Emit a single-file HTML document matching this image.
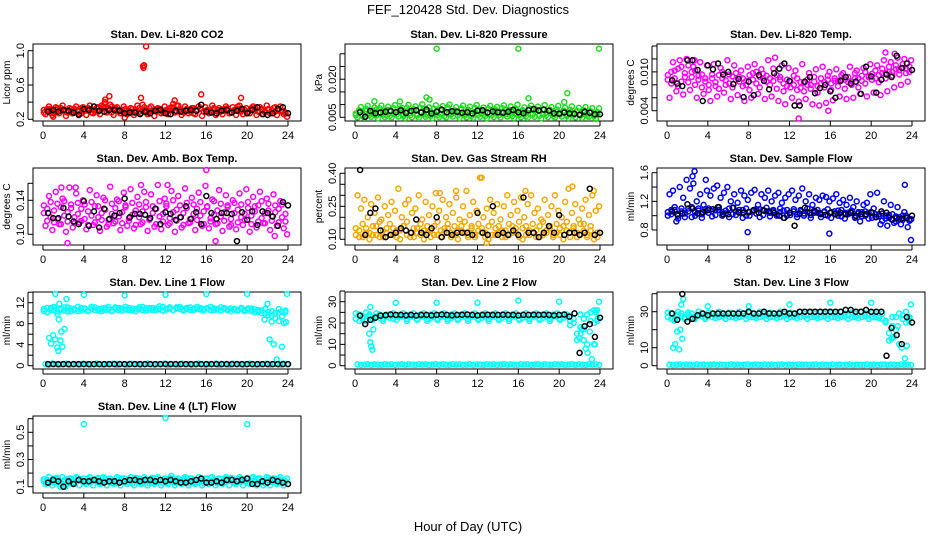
<!DOCTYPE html>
<html><head><meta charset="utf-8"><style>
html,body{margin:0;padding:0;background:#fff;}
svg{display:block;font-family:"Liberation Sans",sans-serif;}
</style></head><body>
<svg id="fig" xmlns="http://www.w3.org/2000/svg" width="936" height="540" viewBox="0 0 936 540">
<rect width="936" height="540" fill="#fff"/>
<text x="468" y="14" text-anchor="middle" font-size="13">FEF_120428  Std. Dev. Diagnostics</text>
<text x="468" y="531" text-anchor="middle" font-size="13">Hour of Day (UTC)</text>
</svg>
<script>
const co2A=[0.31,0.30,0.32,0.29,0.33,0.30,0.31,0.28,0.32,0.30,0.29,0.33,0.31,0.30,0.32,0.29,0.34,0.36,0.38,0.33,0.35,0.31,0.30,0.29,0.32,0.30,0.28,0.31,0.33,0.37,0.31,0.29,0.30,0.32,0.31,0.30,0.29,0.33,0.38,0.36,0.32,0.30,0.31,0.29,0.33,0.30,0.32,0.29,0.31,0.30,0.33,0.29,0.31,0.32,0.30,0.28,0.31,0.35,0.30,0.31,0.29,0.32,0.33,0.30,0.31,0.29,0.32,0.30,0.34,0.31,0.29,0.28];
const co2B=[0.26,0.35,0.25,0.34,0.27,0.36,0.24,0.33,0.27,0.35,0.26,0.34,0.25,0.36,0.27,0.33,0.26,0.35,0.28,0.37,0.25,0.34,0.27,0.35,0.26,0.33,0.25,0.36,0.27,0.34,0.26,0.35,0.24,0.33,0.27,0.35,0.26,0.34,0.28,0.36,0.25,0.35,0.27,0.33,0.26,0.35,0.24,0.34,0.27,0.36,0.25,0.33,0.26,0.35,0.27,0.34,0.25,0.36,0.26,0.33,0.27,0.35,0.25,0.34,0.26,0.36,0.27,0.33,0.25,0.35,0.26,0.23];
const co2C=[0.28,0.32,0.30,0.27,0.31,0.33,0.29,0.30,0.28,0.32,0.31,0.27,0.30,0.33,0.28,0.31,0.29,0.32,0.40,0.30,0.28,0.33,0.29,0.31,0.30,0.27,0.32,0.30,0.29,0.31,0.28,0.33,0.30,0.29,0.32,0.28,0.31,0.30,0.33,0.29,0.31,0.28,0.32,0.30,0.27,0.31,0.33,0.29,0.30,0.28,0.32,0.31,0.29,0.30,0.33,0.28,0.30,0.32,0.29,0.31,0.28,0.33,0.30,0.29,0.32,0.28,0.31,0.30,0.29,0.32,0.30,0.27];
const co2OutH=[9.8,9.85,9.9,10.1,6.5,15.5,19.4,9.6,6.1,12.9,1.0,8.0];
const co2OutV=[0.82,0.80,0.83,1.05,0.47,0.49,0.45,0.45,0.43,0.42,0.23,0.22];
const co2K=[0.29,0.31,0.29,0.31,0.30,0.28,0.25,0.32,0.31,0.35,0.30,0.29,0.31,0.31,0.30,0.27,0.28,0.28,0.26,0.29,0.27,0.30,0.31,0.27,0.26,0.30,0.29,0.30,0.31,0.30,0.37,0.29,0.28,0.27,0.30,0.31,0.28,0.30,0.32,0.27,0.31,0.34,0.26,0.25,0.27,0.32,0.34,0.27];

const prA=[0.0065,0.0070,0.0060,0.0075,0.0068,0.0062,0.0080,0.0066,0.0072,0.0058,0.0078,0.0064,0.0070,0.0083,0.0061,0.0074,0.0067,0.0079,0.0063,0.0071,0.0085,0.0060,0.0073,0.0066,0.0077,0.0062,0.0070,0.0082,0.0064,0.0072,0.0068,0.0080,0.0061,0.0075,0.0066,0.0071,0.0079,0.0063,0.0070,0.0084,0.0062,0.0076,0.0067,0.0072,0.0080,0.0064,0.0070,0.0078,0.0061,0.0073,0.0066,0.0081,0.0063,0.0071,0.0075,0.0062,0.0069,0.0079,0.0064,0.0072,0.0067,0.0074,0.0060,0.0070,0.0065,0.0073,0.0061,0.0068,0.0064,0.0070,0.0058,0.0062];
const prB=[0.0050,0.0090,0.0048,0.0095,0.0052,0.0088,0.0046,0.0096,0.0051,0.0092,0.0049,0.0098,0.0053,0.0087,0.0047,0.0099,0.0050,0.0093,0.0048,0.0101,0.0052,0.0089,0.0046,0.0097,0.0051,0.0094,0.0049,0.0100,0.0053,0.0090,0.0047,0.0096,0.0050,0.0092,0.0048,0.0098,0.0052,0.0088,0.0046,0.0095,0.0051,0.0091,0.0049,0.0097,0.0053,0.0093,0.0047,0.0100,0.0050,0.0089,0.0048,0.0096,0.0052,0.0092,0.0046,0.0098,0.0051,0.0090,0.0049,0.0095,0.0053,0.0088,0.0047,0.0093,0.0050,0.0087,0.0048,0.0090,0.0052,0.0086,0.0046,0.0085];
const prC=[0.0058,0.0078,0.0055,0.0083,0.0060,0.0076,0.0057,0.0085,0.0059,0.0080,0.0056,0.0086,0.0061,0.0077,0.0055,0.0088,0.0058,0.0082,0.0057,0.0087,0.0060,0.0079,0.0056,0.0084,0.0059,0.0081,0.0055,0.0089,0.0061,0.0078,0.0057,0.0085,0.0058,0.0080,0.0056,0.0087,0.0060,0.0077,0.0055,0.0083,0.0059,0.0081,0.0057,0.0086,0.0061,0.0079,0.0056,0.0084,0.0058,0.0078,0.0055,0.0085,0.0060,0.0080,0.0057,0.0082,0.0059,0.0077,0.0056,0.0081,0.0061,0.0076,0.0055,0.0079,0.0058,0.0075,0.0057,0.0078,0.0056,0.0074,0.0055,0.0070];
const prOutH=[8,16,23.9,7,7.3,17,20.8,20.5,23.6,1.9,4.4];
const prOutV=[0.032,0.032,0.032,0.0128,0.012,0.0125,0.0145,0.011,0.0035,0.0113,0.0112];
const prK=[0.0070,0.0052,0.0075,0.0066,0.0069,0.0072,0.0075,0.0070,0.0078,0.0067,0.0075,0.0078,0.0069,0.0080,0.0065,0.0072,0.0080,0.0070,0.0074,0.0072,0.0068,0.0070,0.0065,0.0076,0.0078,0.0069,0.0073,0.0070,0.0068,0.0072,0.0079,0.0070,0.0066,0.0078,0.0082,0.0077,0.0080,0.0076,0.0066,0.0064,0.0069,0.0065,0.0064,0.0060,0.0072,0.0068,0.0062,0.0062];

const tmA=[0.0095,0.0100,0.0090,0.0105,0.0085,0.0098,0.0110,0.0092,0.0102,0.0088,0.0096,0.0085,0.0080,0.0090,0.0078,0.0095,0.0100,0.0087,0.0082,0.0093,0.0098,0.0085,0.0090,0.0080,0.0095,0.0088,0.0100,0.0092,0.0097,0.0085,0.0090,0.0105,0.0095,0.0088,0.0082,0.0078,0.0085,0.0080,0.0090,0.0075,0.0083,0.0088,0.0080,0.0085,0.0078,0.0090,0.0084,0.0088,0.0082,0.0090,0.0086,0.0095,0.0088,0.0092,0.0085,0.0098,0.0090,0.0094,0.0100,0.0092,0.0097,0.0102,0.0095,0.0105,0.0098,0.0108,0.0100,0.0110,0.0103,0.0112,0.0105,0.0108];
const tmB=[0.0060,0.0115,0.0070,0.0118,0.0065,0.0120,0.0072,0.0108,0.0060,0.0115,0.0066,0.0110,0.0055,0.0112,0.0062,0.0106,0.0068,0.0118,0.0058,0.0110,0.0064,0.0102,0.0055,0.0108,0.0060,0.0112,0.0066,0.0104,0.0058,0.0118,0.0062,0.0122,0.0055,0.0110,0.0050,0.0106,0.0060,0.0102,0.0054,0.0112,0.0058,0.0098,0.0050,0.0104,0.0048,0.0108,0.0052,0.0100,0.0056,0.0104,0.0062,0.0098,0.0058,0.0108,0.0060,0.0102,0.0066,0.0106,0.0062,0.0112,0.0068,0.0110,0.0064,0.0118,0.0070,0.0115,0.0076,0.0122,0.0080,0.0120,0.0085,0.0118];
const tmC=[0.0088,0.0082,0.0102,0.0078,0.0108,0.0092,0.0084,0.0100,0.0080,0.0094,0.0076,0.0090,0.0072,0.0096,0.0084,0.0074,0.0090,0.0080,0.0096,0.0076,0.0088,0.0092,0.0078,0.0086,0.0072,0.0098,0.0082,0.0076,0.0090,0.0094,0.0080,0.0086,0.0074,0.0092,0.0070,0.0088,0.0076,0.0094,0.0072,0.0084,0.0070,0.0080,0.0074,0.0092,0.0068,0.0082,0.0076,0.0094,0.0072,0.0086,0.0078,0.0088,0.0074,0.0084,0.0080,0.0090,0.0076,0.0086,0.0082,0.0094,0.0088,0.0090,0.0084,0.0098,0.0090,0.0100,0.0094,0.0104,0.0096,0.0106,0.0098,0.0100];
const tmOutH=[12.9,15.8,2.7,21.4,22.3];
const tmOutV=[0.0028,0.0040,0.0118,0.0130,0.0128];
const tmK=[0.0087,0.0082,0.0078,0.0118,0.0118,0.0103,0.0055,0.0110,0.0104,0.0113,0.0096,0.0100,0.0081,0.0089,0.0061,0.0085,0.0064,0.0095,0.0086,0.0073,0.0098,0.0105,0.0113,0.0086,0.0048,0.0048,0.0085,0.0092,0.0067,0.0075,0.0080,0.0070,0.0060,0.0086,0.0092,0.0082,0.0085,0.0066,0.0108,0.0093,0.0068,0.0088,0.0096,0.0092,0.0125,0.0106,0.0113,0.0103];

const abA=[0.125,0.130,0.120,0.128,0.118,0.132,0.122,0.126,0.135,0.120,0.124,0.130,0.118,0.127,0.122,0.133,0.120,0.125,0.129,0.117,0.124,0.131,0.121,0.126,0.134,0.119,0.123,0.128,0.120,0.127,0.132,0.118,0.125,0.130,0.121,0.124,0.133,0.119,0.126,0.129,0.120,0.125,0.131,0.118,0.124,0.130,0.122,0.127,0.133,0.119,0.123,0.128,0.121,0.126,0.132,0.118,0.125,0.129,0.120,0.124,0.131,0.122,0.127,0.134,0.119,0.125,0.128,0.121,0.126,0.130,0.120,0.124];
const abB=[0.110,0.145,0.105,0.150,0.112,0.142,0.103,0.155,0.108,0.148,0.114,0.140,0.106,0.152,0.111,0.146,0.104,0.143,0.109,0.156,0.113,0.141,0.105,0.149,0.110,0.153,0.107,0.144,0.112,0.150,0.104,0.147,0.109,0.158,0.106,0.142,0.111,0.151,0.103,0.145,0.108,0.154,0.113,0.143,0.105,0.149,0.110,0.157,0.107,0.141,0.112,0.152,0.104,0.146,0.109,0.140,0.106,0.148,0.111,0.153,0.103,0.144,0.108,0.150,0.113,0.142,0.105,0.147,0.110,0.139,0.107,0.100];
const abC=[0.134,0.116,0.138,0.114,0.136,0.112,0.139,0.115,0.131,0.113,0.137,0.116,0.135,0.111,0.138,0.114,0.133,0.117,0.140,0.112,0.136,0.115,0.139,0.113,0.132,0.116,0.137,0.111,0.135,0.114,0.138,0.117,0.133,0.112,0.139,0.115,0.136,0.113,0.140,0.116,0.134,0.111,0.137,0.114,0.135,0.117,0.138,0.112,0.132,0.115,0.139,0.113,0.136,0.116,0.134,0.111,0.137,0.114,0.135,0.117,0.138,0.112,0.133,0.115,0.139,0.113,0.136,0.116,0.134,0.114,0.135,0.115];
const abOutH=[2.4,16,16.9,1.8,3.2,12.2,9.6,22.7];
const abOutV=[0.088,0.178,0.092,0.155,0.155,0.158,0.158,0.098];
const abK=[0.125,0.119,0.119,0.131,0.121,0.115,0.112,0.139,0.110,0.127,0.108,0.130,0.118,0.122,0.125,0.142,0.120,0.124,0.124,0.123,0.119,0.130,0.112,0.126,0.124,0.117,0.120,0.133,0.118,0.126,0.112,0.145,0.125,0.118,0.125,0.125,0.124,0.092,0.126,0.117,0.127,0.111,0.127,0.125,0.121,0.110,0.138,0.134];

const rhA=[0.12,0.14,0.11,0.15,0.13,0.12,0.16,0.11,0.14,0.13,0.12,0.15,0.11,0.14,0.16,0.12,0.13,0.11,0.15,0.12,0.14,0.13,0.11,0.16,0.12,0.14,0.13,0.15,0.11,0.12,0.14,0.16,0.13,0.11,0.15,0.12,0.14,0.13,0.11,0.16,0.12,0.15,0.13,0.11,0.14,0.12,0.16,0.13,0.11,0.15,0.12,0.14,0.13,0.11,0.16,0.12,0.14,0.15,0.11,0.13,0.12,0.16,0.14,0.11,0.15,0.13,0.12,0.17,0.11,0.14,0.12,0.11];
const rhB=[0.30,0.24,0.28,0.20,0.26,0.22,0.29,0.19,0.25,0.21,0.27,0.23,0.33,0.20,0.26,0.28,0.22,0.24,0.30,0.19,0.27,0.21,0.25,0.31,0.23,0.28,0.20,0.26,0.22,0.29,0.19,0.25,0.32,0.21,0.27,0.23,0.38,0.20,0.24,0.28,0.22,0.26,0.19,0.25,0.30,0.21,0.27,0.23,0.29,0.20,0.26,0.30,0.22,0.24,0.19,0.28,0.21,0.25,0.30,0.23,0.20,0.27,0.33,0.22,0.26,0.19,0.24,0.28,0.21,0.30,0.23,0.25];
const rhC=[0.15,0.11,0.17,0.13,0.10,0.16,0.12,0.18,0.11,0.15,0.17,0.12,0.14,0.10,0.16,0.18,0.11,0.15,0.13,0.17,0.10,0.16,0.14,0.12,0.18,0.11,0.15,0.17,0.13,0.16,0.10,0.14,0.18,0.12,0.16,0.11,0.17,0.15,0.13,0.10,0.18,0.12,0.16,0.14,0.11,0.17,0.13,0.15,0.18,0.10,0.16,0.12,0.17,0.14,0.11,0.18,0.13,0.16,0.12,0.17,0.15,0.10,0.18,0.13,0.16,0.11,0.17,0.14,0.12,0.16,0.10,0.13];
const rhOutH=[12.4,21.3,23.4,8.3,9.9,16.7,12.9];
const rhOutV=[0.38,0.34,0.32,0.31,0.32,0.32,0.08];
const rhK=[0.43,0.12,0.22,0.24,0.14,0.11,0.12,0.13,0.15,0.14,0.13,0.19,0.13,0.12,0.15,0.20,0.11,0.13,0.12,0.13,0.13,0.13,0.12,0.22,0.13,0.12,0.25,0.12,0.13,0.12,0.14,0.12,0.29,0.13,0.13,0.11,0.13,0.16,0.13,0.21,0.12,0.13,0.13,0.12,0.13,0.33,0.12,0.13];

const sfA=[1.05,1.02,1.08,1.00,1.06,1.03,1.10,0.98,1.05,1.07,1.02,1.09,1.04,1.06,1.01,1.08,1.05,1.03,1.10,1.02,1.06,1.04,1.08,1.00,1.05,1.07,1.03,1.09,1.01,1.06,1.04,1.08,1.02,1.05,1.07,1.00,1.04,1.06,1.02,1.08,1.03,1.05,1.01,1.07,1.04,1.02,1.06,1.00,1.05,1.03,1.07,0.99,1.04,1.02,1.06,0.98,1.03,1.05,1.00,1.04,0.97,1.02,0.99,1.03,0.96,1.01,0.94,0.99,0.95,1.00,0.97,0.95];
const sfB=[1.30,1.35,0.92,1.40,1.25,1.50,1.38,1.45,1.20,1.30,1.15,1.35,1.28,1.38,1.42,1.25,1.32,1.40,1.20,1.30,1.18,1.35,1.28,1.22,1.32,1.36,1.15,1.30,1.25,1.35,1.20,1.28,1.32,1.18,1.25,1.30,1.35,1.22,1.28,1.38,1.20,1.30,1.15,1.25,1.22,1.28,1.26,1.20,1.24,1.30,1.18,1.22,1.15,1.25,1.12,1.20,0.92,1.15,1.18,1.30,1.10,1.32,0.88,1.20,0.86,1.15,0.90,1.12,0.88,1.05,0.84,0.95];
const sfC=[1.00,1.08,1.12,0.96,1.10,0.98,1.06,1.12,1.00,1.10,0.97,1.06,1.10,0.99,1.08,1.12,1.00,1.07,0.98,1.11,1.01,1.08,0.97,1.10,1.00,1.06,1.09,0.98,1.08,1.11,0.99,1.06,1.00,1.10,0.97,1.08,1.01,1.09,0.98,1.06,1.00,1.10,0.97,1.04,1.08,0.98,1.05,1.09,0.97,1.06,1.00,1.08,0.96,1.04,1.07,0.97,1.05,0.99,1.06,0.96,1.04,0.98,1.02,0.93,1.00,0.97,1.02,0.92,0.98,0.94,1.00,0.93];
const sfOutH=[2.7,7.9,15.9,23.9,23.3,2.5,3.8];
const sfOutV=[1.62,0.77,0.75,0.66,1.43,1.55,1.50];
const sfK=[1.06,1.02,1.03,1.16,1.10,1.03,1.05,1.08,1.09,1.12,1.02,1.02,1.11,1.05,1.04,1.05,1.08,1.04,1.07,1.06,1.04,1.00,0.97,1.04,0.86,1.03,1.11,1.04,1.06,1.03,1.01,1.04,1.02,1.04,1.02,1.04,1.00,1.02,1.02,1.05,0.98,1.06,1.04,0.95,0.97,0.96,0.97,1.00];

const l1A=[10.8,10.2,11.0,10.5,9.8,10.6,11.1,10.3,10.9,10.6,10.4,11.0,10.7,10.5,11.2,10.6,10.8,10.4,11.0,10.7,10.5,11.1,10.6,10.9,10.7,11.0,10.5,10.8,11.1,10.6,10.9,10.7,11.0,10.6,10.8,11.2,10.7,10.9,10.6,11.1,10.8,10.7,11.0,10.6,10.9,11.2,10.7,10.8,11.0,10.6,10.9,10.7,11.1,10.8,10.6,10.9,10.7,10.5,10.8,10.6,10.9,10.4,10.7,10.3,10.5,9.9,10.2,9.5,10.0,8.5,10.3,10.2];
const l1C=[10.4,11.0,10.6,11.2,10.3,10.9,10.5,11.1,10.4,10.8,11.2,10.5,10.9,10.4,10.8,11.1,10.5,10.9,10.6,11.2,10.4,10.8,11.0,10.5,11.2,10.6,10.9,10.4,10.8,11.2,10.5,11.0,10.6,10.9,11.3,10.5,10.8,11.1,10.6,10.9,11.2,10.5,10.8,11.1,10.6,10.8,11.0,10.5,10.9,11.2,10.6,10.8,10.5,11.0,10.7,10.4,10.8,10.6,11.0,10.4,10.7,10.9,10.2,10.6,10.0,10.8,9.6,10.4,9.0,10.1,9.4,10.5];
const l1Z=[0.3,0.2,0.4,0.3,0.2,0.3,0.4,0.2,0.3,0.3,0.2,0.4,0.3,0.2,0.3,0.4,0.3,0.2,0.3,0.3,0.4,0.2,0.3,0.3,0.2,0.4,0.3,0.3,0.2,0.3,0.4,0.3,0.2,0.3,0.3,0.4,0.2,0.3,0.3,0.2,0.4,0.3,0.3,0.2,0.3,0.4,0.3,0.2,0.3,0.3,0.4,0.2,0.3,0.3,0.2,0.4,0.3,0.3,0.2,0.3,0.4,0.3,0.2,0.3,0.3,0.4,0.2,0.3,0.3,0.2,0.4,0.3];
const l1OutH=[0.6,0.8,1.0,1.2,1.4,1.5,1.6,1.7,1.8,1.9,1.55,1.3,2.3,1.2,4,8,12,16,20,23.9,21.7,22.0,22.2,22.4,22.6,23.1,23.4,23.6,23.8,22.9,2.1];
const l1OutV=[5.3,4.2,5.8,5.0,3.5,2.8,11.8,4.8,6.5,3.6,8.8,11.0,12.7,13.7,13.5,13.4,13.5,13.9,13.8,13.7,8.8,11.8,5.0,8.4,4.1,10.8,3.6,8.1,8.3,1.2,7.0];
const l1K=[0.3,0.3,0.3,0.3,0.3,0.3,0.3,0.3,0.3,0.3,0.3,0.3,0.3,0.3,0.3,0.3,0.3,0.3,0.3,0.3,0.3,0.3,0.3,0.3,0.3,0.3,0.3,0.3,0.3,0.3,0.3,0.3,0.3,0.3,0.3,0.3,0.3,0.3,0.3,0.3,0.3,0.3,0.3,0.3,0.3,0.3,0.3,0.3];

const l2A=[22,24,23,21,24,22,23,24,22,23,24,22,23,24,23,22,24,23,22,24,23,22,24,23,22,24,23,22,24,23,22,24,23,22,24,23,22,24,23,22,24,23,22,24,23,22,24,23,22,24,23,22,24,23,22,24,23,22,24,23,22,24,23,21,20,15,18,22,24,21,20,22];
const l2C=[24.5,21,22,25,23,21.5,24.5,22.5,21,24,22.5,24.5,21.5,23,24.5,21,23,24.5,21.5,23,24.5,21,22.5,24.5,21.5,23,24.5,21,22.5,24.5,21.5,23,24.5,21,23,24.5,21.5,22.5,24.5,21,23,24.5,21.5,22.5,24.5,21,23,24.5,21.5,22.5,24.5,21,23,24.5,21.5,22.5,24.5,21,23,24.5,21.5,22.5,24,19,22,12,24,17,10,25,26,21];
const l2Z=[0.6,0.4,0.5,0.7,0.4,0.6,0.5,0.4,0.7,0.5,0.6,0.4,0.5,0.7,0.4,0.6,0.5,0.4,0.7,0.5,0.6,0.4,0.5,0.7,0.4,0.6,0.5,0.4,0.7,0.5,0.6,0.4,0.5,0.7,0.4,0.6,0.5,0.4,0.7,0.5,0.6,0.4,0.5,0.7,0.4,0.6,0.5,0.4,0.7,0.5,0.6,0.4,0.5,0.7,0.4,0.6,0.5,0.4,0.7,0.5,0.6,0.4,0.5,0.7,0.4,0.6,0.5,0.4,0.7,0.5,0.6,0.4];
const l2OutH=[1.4,1.5,1.6,1.7,1.8,1.5,4,8,12,16,20,23.9,22.0,22.2,22.4,22.6,22.8,23.0,23.2,23.4,23.6,22.1,23.5,23.7];
const l2OutV=[15,11,9,7.5,17,27.5,29.5,29.5,29.5,30.5,30,30,13,17,12,8,6,16,3,10,25,15,10,26];
const l2K=[23.5,19.5,21.5,22.5,23.5,23.7,24,23.8,23.8,23.6,23.8,23.5,23.8,23.8,23.6,23.8,24,23.8,23.6,23.8,23.9,24,23.8,23.6,23.8,23.9,23.8,23.8,23.9,23.8,23.8,23.6,23.8,23.8,23.9,23.8,23.9,23.8,23.6,23.8,24,23,24.5,6,18.5,19.5,13.5,22.5];

const l3A=[27,29,26,28,29,27,28,29,27,28,29,27,28,29,28,27,29,28,27,29,28,27,29,28,27,29,28,27,29,28,27,29,28,27,29,28,27,29,28,27,29,28,27,29,28,27,29,28,27,29,28,27,29,28,27,29,28,27,29,28,27,29,28,26,25,18,22,27,29,26,24,27];
const l3C=[29.5,26,25,30,27.5,26,29.5,27,26,30,27.5,26,29.5,27,26.5,30,27.5,26,29.5,27,26.5,30,27.5,26,29.5,27,26.5,30,27.5,26,29.5,27,26.5,30,27.5,26,29.5,27,26.5,30,27.5,26,29.5,27,26.5,30,27.5,26,29.5,27,26.5,30,27.5,26,29.5,27,26.5,30,27.5,26,29.5,27,26.5,29,24,14,27,20,12,28,30,26];
const l3Z=[0.6,0.4,0.5,0.7,0.4,0.6,0.5,0.4,0.7,0.5,0.6,0.4,0.5,0.7,0.4,0.6,0.5,0.4,0.7,0.5,0.6,0.4,0.5,0.7,0.4,0.6,0.5,0.4,0.7,0.5,0.6,0.4,0.5,0.7,0.4,0.6,0.5,0.4,0.7,0.5,0.6,0.4,0.5,0.7,0.4,0.6,0.5,0.4,0.7,0.5,0.6,0.4,0.5,0.7,0.4,0.6,0.5,0.4,0.7,0.5,0.6,0.4,0.5,0.7,0.4,0.6,0.5,0.4,0.7,0.5,0.6,0.4];
const l3OutH=[0.6,0.8,1.2,1.4,1.6,1.3,1.5,4,8,12,16,20,23.9,22.0,22.2,22.6,23.0,23.3,23.5,23.7,1.0];
const l3OutV=[10,12,9,34,37,20,15,33,33,34,35,35,34,15,16,22,10,4,11,25,19];
const l3K=[29,25.5,40,24.5,26,28,29,28,29,29,29,29,29,29,29,30,29,29,30,29,29,29,30,29,29,30,30,30,30,30,30,30,30,30,31,31,30,30,31,30,30,30,5.5,21,17,12,27,24];

const l4A=[0.14,0.15,0.13,0.16,0.14,0.13,0.15,0.14,0.16,0.13,0.15,0.14,0.13,0.16,0.14,0.15,0.13,0.14,0.16,0.15,0.13,0.14,0.15,0.16,0.14,0.13,0.15,0.14,0.16,0.13,0.15,0.14,0.13,0.16,0.14,0.15,0.13,0.14,0.16,0.15,0.13,0.14,0.15,0.16,0.14,0.13,0.15,0.14,0.16,0.13,0.15,0.14,0.13,0.16,0.14,0.15,0.13,0.14,0.16,0.15,0.13,0.14,0.15,0.16,0.14,0.13,0.15,0.14,0.16,0.13,0.15,0.14];
const l4B=[0.12,0.17,0.11,0.16,0.12,0.17,0.11,0.16,0.12,0.17,0.11,0.16,0.12,0.17,0.11,0.16,0.12,0.17,0.11,0.16,0.12,0.17,0.11,0.16,0.12,0.17,0.11,0.16,0.12,0.17,0.11,0.16,0.12,0.17,0.11,0.16,0.12,0.18,0.11,0.16,0.12,0.17,0.11,0.16,0.12,0.17,0.11,0.16,0.12,0.17,0.11,0.16,0.12,0.17,0.11,0.16,0.12,0.17,0.11,0.16,0.12,0.17,0.11,0.16,0.11,0.17,0.11,0.16,0.12,0.17,0.11,0.16];
const l4C=[0.155,0.125,0.145,0.135,0.165,0.125,0.145,0.155,0.125,0.135,0.165,0.145,0.125,0.155,0.135,0.145,0.165,0.125,0.155,0.135,0.145,0.125,0.165,0.135,0.155,0.145,0.125,0.165,0.135,0.145,0.155,0.125,0.165,0.135,0.145,0.125,0.155,0.165,0.135,0.125,0.145,0.155,0.165,0.125,0.135,0.145,0.155,0.125,0.135,0.165,0.145,0.125,0.155,0.135,0.145,0.165,0.125,0.155,0.135,0.145,0.125,0.165,0.135,0.155,0.145,0.125,0.165,0.135,0.145,0.155,0.125,0.135];
const l4OutH=[4,12,20,1.7,2.2];
const l4OutV=[0.56,0.63,0.56,0.10,0.10];
const l4K=[0.13,0.15,0.14,0.10,0.14,0.12,0.15,0.14,0.14,0.15,0.14,0.13,0.14,0.14,0.13,0.14,0.15,0.15,0.14,0.15,0.15,0.14,0.15,0.14,0.15,0.14,0.13,0.13,0.14,0.15,0.16,0.13,0.13,0.14,0.13,0.15,0.15,0.14,0.15,0.16,0.12,0.12,0.14,0.13,0.15,0.14,0.13,0.12];

const NS='http://www.w3.org/2000/svg';
const svg=document.getElementById('fig');
function mk(tag,attrs,parent){const e=document.createElementNS(NS,tag);for(const k in attrs)e.setAttribute(k,attrs[k]);(parent||svg).appendChild(e);return e;}
const colLeft=[33,345,657], rowTop=[44,168,292,416], W=268, H=77;

function panel(cfg){
  const L=colLeft[cfg.col], T=rowTop[cfg.row];
  const g=mk('g',{});
  
  
  const xs=h=>L+10+h*(245/24);
  const ys=v=>T+cfg.p0+(v-cfg.v0)*(cfg.p1-cfg.p0)/(cfg.v1-cfg.v0);
  const t=mk('text',{x:L+W/2,y:T-6,'text-anchor':'middle','font-size':'11','font-weight':'bold'},g);
  t.textContent=cfg.title;
  
  
  const box=mk('rect',{x:L,y:T,width:W,height:H,fill:'none',stroke:'#000','stroke-width':1},g);
  
  
  for(let h=0;h<=24;h+=4){
    mk('line',{x1:xs(h),x2:xs(h),y1:T+H,y2:T+H+5,stroke:'#000'},g);
    const tl=mk('text',{x:xs(h),y:T+H+18,'text-anchor':'middle','font-size':'11'},g);
    tl.textContent=h;
    
    
  }
  mk('line',{x1:xs(0),x2:xs(24),y1:T+H+5,y2:T+H+5,stroke:'#000'},g);
  const yt=cfg.ticks;
  for(const v of yt){mk('line',{x1:L-5,x2:L,y1:ys(v),y2:ys(v),stroke:'#000'},g);}
  mk('line',{x1:L-5,x2:L-5,y1:ys(yt[0]),y2:ys(yt[yt.length-1]),stroke:'#000'},g);
  for(const v of cfg.labels){
    const yl=mk('text',{x:0,y:0,'text-anchor':'middle','font-size':'11',transform:`translate(${L-9},${ys(v)}) rotate(-90)`},g);
    yl.textContent=cfg.fmt?cfg.fmt(v):v;
    
    
  }
  const ylab=mk('text',{x:0,y:0,'text-anchor':'middle','font-size':'10',transform:`translate(${L-23},${T+H/2}) rotate(-90)`},g);
  ylab.textContent=cfg.ylab;
  
  
  const clip=v=>Math.max(T+2,Math.min(T+H-2,ys(v)));
  function dot(h,v,c){
    const cc=mk('circle',{cx:xs(h),cy:clip(v),r:2.5,fill:'none',stroke:c,'stroke-width':1.5},g);
    
    
  }
  cfg.color.forEach((arr,k)=>{arr.forEach((v,i)=>dot((i+0.25+0.5*(k%2))*24/arr.length,v,cfg.c));});
  cfg.outH.forEach((h,i)=>dot(h,cfg.outV[i],cfg.c));
  cfg.black.forEach((v,i)=>dot((i+1)*0.5,v,'#000'));
}
const f3=v=>v.toFixed(3), f2=v=>v.toFixed(2), f1=v=>v.toFixed(1);
panel({name:'panel-co2',col:0,row:0,title:'Stan. Dev. Li-820 CO2',ylab:'Licor ppm',v0:0.2,p0:75.3,v1:1.0,p1:6.7,ticks:[0.2,0.4,0.6,0.8,1.0],labels:[0.2,0.6,1.0],fmt:f1,c:'#ff0000',color:[co2A,co2B,co2C],outH:co2OutH,outV:co2OutV,black:co2K});
panel({name:'panel-pressure',col:1,row:0,title:'Stan. Dev. Li-820 Pressure',ylab:'kPa',v0:0.005,p0:73.3,v1:0.020,p1:35.2,ticks:[0.005,0.010,0.015,0.020,0.025,0.030],labels:[0.005,0.020],fmt:f3,c:'#1fdc1f',color:[prA,prB,prC],outH:prOutH,outV:prOutV,black:prK});
panel({name:'panel-li820-temp',col:2,row:0,title:'Stan. Dev. Li-820 Temp.',ylab:'degrees C',v0:0.004,p0:66.7,v1:0.014,p1:2,ticks:[0.004,0.006,0.008,0.010,0.012,0.014],labels:[0.004,0.010],fmt:f3,c:'#ff00ff',color:[tmA,tmB,tmC],outH:tmOutH,outV:tmOutV,black:tmK});
panel({name:'panel-amb-box-temp',col:0,row:1,title:'Stan. Dev. Amb. Box Temp.',ylab:'degrees C',v0:0.10,p0:66.3,v1:0.14,p1:32.3,ticks:[0.10,0.12,0.14,0.16],labels:[0.10,0.14],fmt:f2,c:'#ff00ff',color:[abA,abB,abC],outH:abOutH,outV:abOutV,black:abK});
panel({name:'panel-gas-stream-rh',col:1,row:1,title:'Stan. Dev. Gas Stream RH',ylab:'percent',v0:0.10,p0:71.3,v1:0.40,p1:5.3,ticks:[0.10,0.15,0.20,0.25,0.30,0.35,0.40],labels:[0.10,0.25,0.40],fmt:f2,c:'#f7a800',color:[rhA,rhB,rhC],outH:rhOutH,outV:rhOutV,black:rhK});
panel({name:'panel-sample-flow',col:2,row:1,title:'Stan. Dev. Sample Flow',ylab:'ml/min',v0:0.8,p0:62,v1:1.6,p1:4.7,ticks:[0.8,1.0,1.2,1.4,1.6],labels:[0.8,1.2,1.6],fmt:f1,c:'#0000ff',color:[sfA,sfB,sfC],outH:sfOutH,outV:sfOutV,black:sfK});
panel({name:'panel-line1-flow',col:0,row:2,title:'Stan. Dev. Line 1 Flow',ylab:'ml/min',v0:0,p0:73.7,v1:12,p1:10.7,ticks:[0,2,4,6,8,10,12,14],labels:[0,4,8,12],c:'#00ffff',color:[l1A,l1Z,l1C],outH:l1OutH,outV:l1OutV,black:l1K});
panel({name:'panel-line2-flow',col:1,row:2,title:'Stan. Dev. Line 2 Flow',ylab:'ml/min',v0:0,p0:73.7,v1:30,p1:9.7,ticks:[0,5,10,15,20,25,30,35],labels:[0,10,20,30],c:'#00ffff',color:[l2A,l2Z,l2C],outH:l2OutH,outV:l2OutV,black:l2K});
panel({name:'panel-line3-flow',col:2,row:2,title:'Stan. Dev. Line 3 Flow',ylab:'ml/min',v0:0,p0:73.7,v1:30,p1:19.7,ticks:[0,10,20,30,40],labels:[0,10,30],c:'#00ffff',color:[l3A,l3Z,l3C],outH:l3OutH,outV:l3OutV,black:l3K});
panel({name:'panel-line4-flow',col:0,row:3,title:'Stan. Dev. Line 4 (LT) Flow',ylab:'ml/min',v0:0.1,p0:70.7,v1:0.5,p1:16.3,ticks:[0.1,0.2,0.3,0.4,0.5,0.6],labels:[0.1,0.3,0.5],fmt:f1,c:'#00ffff',color:[l4A,l4B,l4C],outH:l4OutH,outV:l4OutV,black:l4K});
</script>
</body></html>
